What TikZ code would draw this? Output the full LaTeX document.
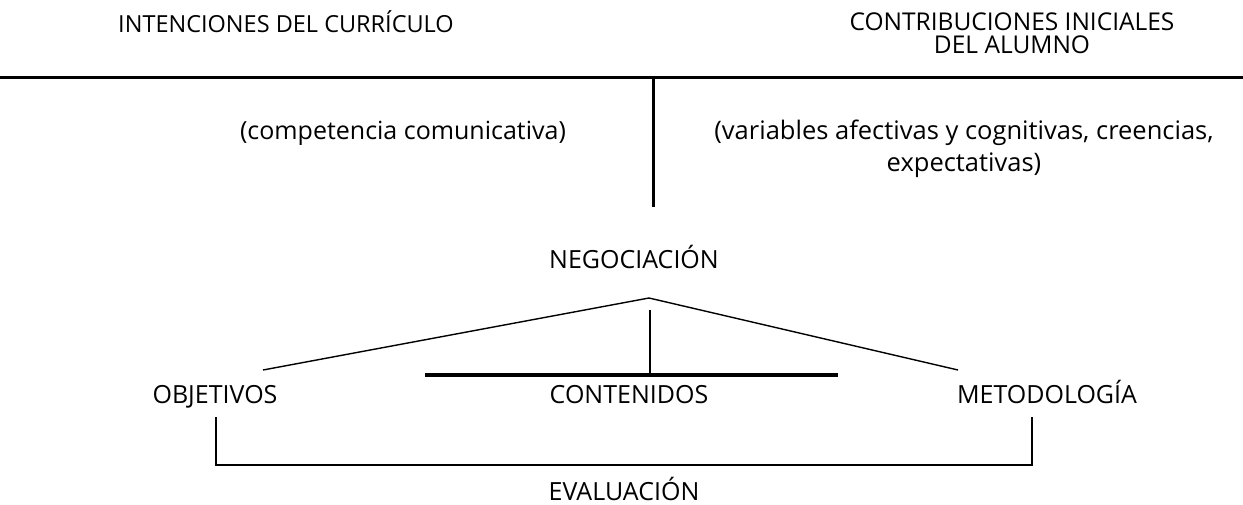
\documentclass[tikz,border=0pt]{standalone}
\usepackage{fontspec}
\setmainfont{Open Sans}
\tikzset{
  lbl/.style={font=\fontsize{25}{26}\selectfont, inner sep=0pt, anchor=base},
  lblh/.style={font=\fontsize{23.5}{26}\selectfont, inner sep=0pt, anchor=base},
  lblr/.style={font=\fontsize{24.5}{22.5}\selectfont, inner sep=0pt, anchor=base, align=center},
  lblv/.style={font=\fontsize{25.5}{32}\selectfont, inner sep=0pt, anchor=base, align=center},
  thickln/.style={line width=3pt},
  thinln/.style={line width=1.4pt},
  midln/.style={line width=2.4pt},
}
\begin{document}
\begin{tikzpicture}[x=1pt,y=-1pt]
\useasboundingbox (0,0) rectangle (1243,504);
% top headings
\node[lblh] (int) at (286,32) {INTENCIONES DEL CURRÍCULO};
\node[lblr] (con) at (1012,53) {CONTRIBUCIONES INICIALES\\DEL ALUMNO};
% top T
\coordinate (tl) at (0,77);
\coordinate (tr) at (1243,77);
\coordinate (tm) at (653,77);
\coordinate (tb) at (653,207);
\draw[thickln] (tl) -- (tr);
\draw[thickln] (tm) -- (tb);
\node[lbl] (comp) at (403,139) {(competencia comunicativa)};
\node[lblv] (var) at (964,171) {(variables afectivas y cognitivas, creencias,\\expectativas)};
% negociacion
\node[lbl] (neg) at (634,268) {NEGOCIACIÓN};
\coordinate (apex) at (649,298);
\coordinate (dl) at (263,370);
\coordinate (dr) at (958,370);
\draw[thinln] (dl) -- (apex) -- (dr);
\coordinate (vtop) at (650,310);
\coordinate (vbot) at (650,375);
\draw[midln] (vtop) -- (vbot);
\coordinate (hl) at (425,375);
\coordinate (hr) at (838,375);
\draw[line width=3.5pt] (hl) -- (hr);
% row
\node[lbl] (obj) at (215,403) {OBJETIVOS};
\node[lbl] (cont) at (629,403) {CONTENIDOS};
\node[lbl] (met) at (1047,403) {METODOLOGÍA};
% bracket
\coordinate (bl) at (216,417);
\coordinate (br) at (1032,417);
\draw[thinln] (bl) -- (bl |- 0,465) -- (br |- 0,465) -- (br);
\node[lbl] (eva) at (624,500) {EVALUACIÓN};
\end{tikzpicture}
\end{document}
